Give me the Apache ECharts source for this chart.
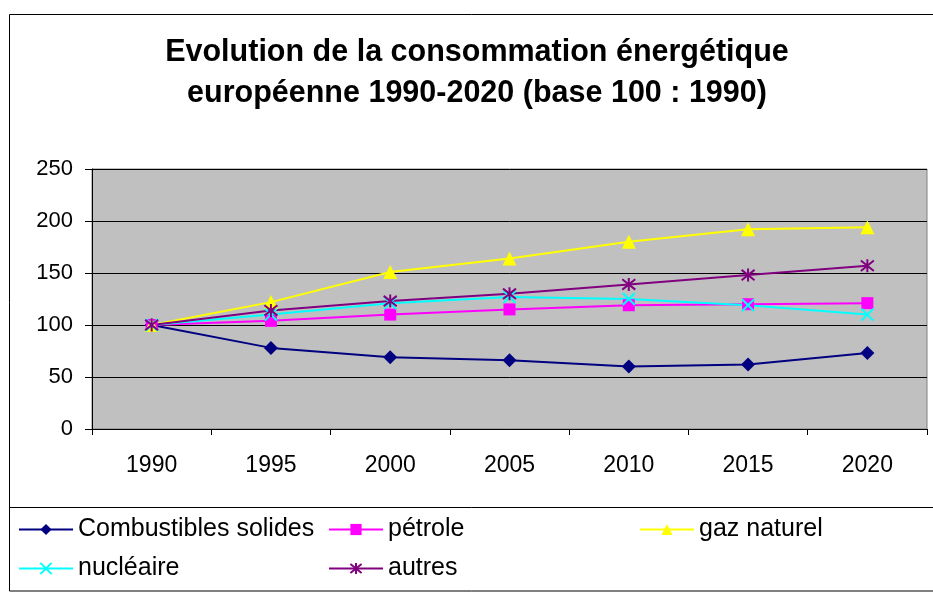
<!DOCTYPE html>
<html>
<head>
<meta charset="utf-8">
<script src="https://cdn.jsdelivr.net/npm/echarts@6/dist/echarts.min.js"></script>
<style>
html,body{margin:0;padding:0;background:#fff;}
#chart{width:933px;height:592px;}
</style>
</head>
<body>
<div id="chart"></div>
<script>
const years = ['1990','1995','2000','2005','2010','2015','2020'];
const yTicks = [0, 50, 100, 150, 200, 250];
const combustiblesSolides = [100, 78, 69, 66, 60, 62, 73];
const petrole = [100, 104, 110, 115, 119, 120, 121];
const gazNaturel = [100, 122, 151, 164, 180, 192, 194];
const nucleaire = [100, 110, 121, 127, 125, 119, 110];
const autres = [100, 114, 123, 130, 139, 148, 157];
const seriesNames = ['Combustibles solides', 'pétrole', 'gaz naturel', 'nucléaire', 'autres'];

const FONT = 'Liberation Sans, Arial, sans-serif';
const chart = echarts.init(document.getElementById('chart'), null, {renderer: 'canvas'});

function lineSeries(name, data, color, symbol, size, stroke) {
  return {
    name: name,
    type: 'line',
    data: data,
    symbol: symbol,
    symbolSize: size,
    showAllSymbol: true,
    lineStyle: {color: color, width: 2},
    itemStyle: stroke ? {color: 'rgba(0,0,0,0)', borderColor: color, borderWidth: 2} : {color: color, borderWidth: 0},
    emphasis: {disabled: true},
    animation: false
  };
}

function legendItem(name, left, top) {
  return {
    data: [name],
    left: left,
    top: top,
    padding: 0,
    itemWidth: 54,
    itemHeight: 14,
    itemGap: 0,
    selectedMode: false,
    textStyle: {fontFamily: FONT, fontSize: 25, color: '#000', padding: [0, 0, 0, 0]}
  };
}

const option = {
  animation: false,
  backgroundColor: '#fff',
  title: {
    text: 'Evolution de la consommation énergétique\neuropéenne 1990-2020 (base 100 : 1990)',
    left: 477,
    top: 32,
    textAlign: 'center',
    padding: 0,
    textStyle: {fontFamily: FONT, fontSize: 30.5, fontWeight: 'bold', color: '#000', lineHeight: 41}
  },
  graphic: [
    {type: 'rect', shape: {x: 9.5, y: 14.5, width: 940, height: 576.5}, style: {fill: 'none', stroke: '#000', lineWidth: 1}, z: -10},
    {type: 'line', shape: {x1: 9.5, y1: 507.5, x2: 940, y2: 507.5}, style: {stroke: '#000', lineWidth: 1}, z: -10}
  ],
  legend: [
    legendItem(seriesNames[0], 18, 517),
    legendItem(seriesNames[1], 328, 517),
    legendItem(seriesNames[2], 639, 517),
    legendItem(seriesNames[3], 18, 556),
    legendItem(seriesNames[4], 328, 556)
  ],
  grid: {
    left: 92, top: 169, width: 835, height: 260,
    show: true, backgroundColor: '#C0C0C0', borderColor: '#808080', borderWidth: 1,
    containLabel: false
  },
  xAxis: {
    type: 'category',
    data: years,
    boundaryGap: true,
    axisLine: {show: true, lineStyle: {color: '#000', width: 1}},
    axisTick: {show: true, length: 6, lineStyle: {color: '#000'}},
    axisLabel: {fontFamily: FONT, fontSize: 23, color: '#000', margin: 25},
    splitLine: {show: false}
  },
  yAxis: {
    type: 'value',
    min: yTicks[0],
    max: yTicks[yTicks.length - 1],
    interval: 50,
    axisLine: {show: true, lineStyle: {color: '#000', width: 1}},
    axisTick: {show: true, length: 7, lineStyle: {color: '#000'}},
    axisLabel: {fontFamily: FONT, fontSize: 22, color: '#000', margin: 19},
    splitLine: {show: true, lineStyle: {color: '#000', width: 1}}
  },
  series: [
    lineSeries(seriesNames[0], combustiblesSolides, '#000080', 'diamond', 14, false),
    lineSeries(seriesNames[1], petrole, '#FF00FF', 'rect', 12, false),
    lineSeries(seriesNames[2], gazNaturel, '#FFFF00', 'triangle', 14, false),
    lineSeries(seriesNames[3], nucleaire, '#00FFFF', 'path://M0,0L10,10M10,0L0,10', 12, true),
    lineSeries(seriesNames[4], autres, '#800080', 'path://M5,0L5,10M0,1L10,9M10,1L0,9', 13, true)
  ]
};
chart.setOption(option);
</script>
</body>
</html>
